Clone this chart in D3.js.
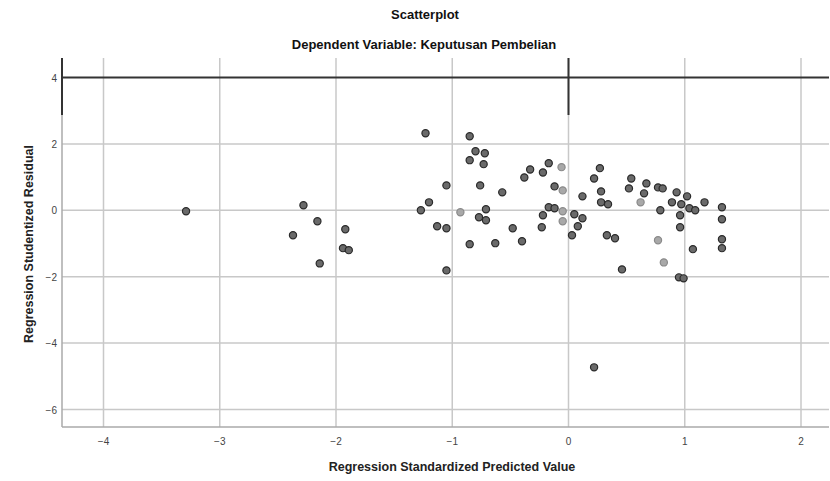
<!DOCTYPE html>
<html><head><meta charset="utf-8">
<script src="https://cdn.jsdelivr.net/npm/d3@7"></script>
<style>body{margin:0;background:#fff}svg{display:block}text{font-family:"Liberation Sans",Arial,sans-serif}</style>
</head><body><svg id="c" width="830" height="481"></svg>
<script>
const title = "Scatterplot";
const subtitle = "Dependent Variable: Keputusan Pembelian";
const xLabel = "Regression Standardized Predicted Value";
const yLabel = "Regression Studentized Residual";
const xTicks = [-4, -3, -2, -1, 0, 1, 2];
const yTicks = [4, 2, 0, -2, -4, -6];
// predicted (x), residual (y), shade (0 dark, 1 light)
const predicted = [-3.29,-2.28,-2.16,-2.37,-1.92,-1.94,-1.89,-2.14,-1.23,-1.27,-1.20,-1.05,-1.13,-1.05,-1.05,-0.85,-0.80,-0.72,-0.85,-0.73,-0.76,-0.57,-0.93,-0.71,-0.77,-0.71,-0.85,-0.63,-0.48,-0.40,-0.38,-0.33,-0.22,-0.17,-0.06,-0.12,-0.05,0.12,0.27,0.22,0.28,0.34,0.28,-0.17,-0.12,-0.05,-0.22,0.05,0.12,-0.05,-0.23,0.08,0.03,0.33,0.40,0.54,0.52,0.67,0.77,0.81,0.65,0.62,0.93,1.02,0.89,0.97,1.04,1.09,1.17,0.79,0.96,0.96,1.32,1.32,0.77,1.07,1.32,1.32,0.82,0.46,0.95,0.99,0.22];
const residual  = [-0.03,0.15,-0.33,-0.75,-0.57,-1.14,-1.20,-1.60,2.32,0.00,0.24,0.75,-0.48,-0.54,-1.81,2.23,1.78,1.72,1.51,1.39,0.75,0.54,-0.06,0.03,-0.21,-0.30,-1.02,-0.99,-0.54,-0.93,0.99,1.23,1.14,1.42,1.30,0.72,0.60,0.42,1.27,0.96,0.57,0.18,0.24,0.09,0.06,-0.03,-0.15,-0.12,-0.24,-0.33,-0.51,-0.48,-0.75,-0.75,-0.84,0.96,0.66,0.81,0.69,0.66,0.51,0.24,0.54,0.42,0.24,0.18,0.06,0.00,0.24,0.00,-0.15,-0.51,0.09,-0.27,-0.90,-1.17,-0.87,-1.14,-1.57,-1.78,-2.02,-2.05,-4.73];
const shade     = [0,0,0,0,0,0,0,0,0,0,0,0,0,0,0,0,0,0,0,0,0,0,1,0,0,0,0,0,0,0,0,0,0,0,1,0,1,0,0,0,0,0,0,0,0,1,0,0,0,1,0,0,0,0,0,0,0,0,0,0,0,1,0,0,0,0,0,0,0,0,0,0,0,0,1,0,0,0,1,0,0,0,0];

const svg = d3.select("#c");
const L = 62, R = 829, T = 58, B = 427;
const x = d3.scaleLinear().domain([-4, 2]).range([103.5, 801]);
const y = d3.scaleLinear().domain([4, -6]).range([77.5, 409.5]);

svg.append("text").attr("x", 425).attr("y", 19).attr("text-anchor", "middle")
  .attr("font-size", 13).attr("font-weight", "bold").attr("fill", "#111").text(title);
svg.append("text").attr("x", 424).attr("y", 49).attr("text-anchor", "middle")
  .attr("font-size", 13).attr("font-weight", "bold").attr("fill", "#111").text(subtitle);

const grid = svg.append("g");
grid.selectAll("line.vx").data(xTicks).join("line")
  .attr("x1", d => x(d)).attr("x2", d => x(d)).attr("y1", T).attr("y2", B)
  .attr("stroke", "#c8c8c8").attr("stroke-width", 1.5);
grid.selectAll("line.hy").data(yTicks).join("line")
  .attr("x1", L).attr("x2", R).attr("y1", d => y(d)).attr("y2", d => y(d))
  .attr("stroke", d => d === 4 ? "#333" : "#c8c8c8").attr("stroke-width", d => d === 4 ? 2 : 1.5);
// frame
svg.append("line").attr("x1", L).attr("x2", L).attr("y1", 115).attr("y2", B).attr("stroke", "#aaa").attr("stroke-width", 1.5);
svg.append("line").attr("x1", L).attr("x2", L).attr("y1", T).attr("y2", 115).attr("stroke", "#333").attr("stroke-width", 2);
svg.append("line").attr("x1", x(0)).attr("x2", x(0)).attr("y1", T).attr("y2", 115).attr("stroke", "#333").attr("stroke-width", 2);
svg.append("line").attr("x1", L).attr("x2", R).attr("y1", B).attr("y2", B).attr("stroke", "#aaa").attr("stroke-width", 1.5);

// tick labels
svg.selectAll("text.xt").data(xTicks).join("text")
  .attr("x", d => x(d)).attr("y", 445).attr("text-anchor", "middle")
  .attr("font-size", 10).attr("fill", "#444").text(d => d3.format("d")(d).replace("-", "\u2212"));
svg.selectAll("text.yt").data(yTicks).join("text")
  .attr("x", 57).attr("y", d => y(d) + 4).attr("text-anchor", "end")
  .attr("font-size", 10).attr("fill", "#444").text(d => d3.format("d")(d).replace("-", "\u2212"));

svg.append("text").attr("x", 452).attr("y", 471).attr("text-anchor", "middle")
  .attr("font-size", 12.5).attr("font-weight", "bold").attr("fill", "#222").text(xLabel);
svg.append("text").attr("transform", "translate(33,244) rotate(-90)").attr("text-anchor", "middle")
  .attr("font-size", 12.5).attr("font-weight", "bold").attr("fill", "#222").text(yLabel);

const pts = predicted.map((p, i) => ({p, r: residual[i], s: shade[i]}));
svg.append("g").selectAll("circle").data(pts).join("circle")
  .attr("cx", d => x(d.p)).attr("cy", d => y(d.r)).attr("r", 3.6)
  .attr("fill", d => d.s ? "#a8a8a8" : "#6a6a6a")
  .attr("stroke", d => d.s ? "#8a8a8a" : "#2a2a2a").attr("stroke-width", 1.2);
</script></body></html>
